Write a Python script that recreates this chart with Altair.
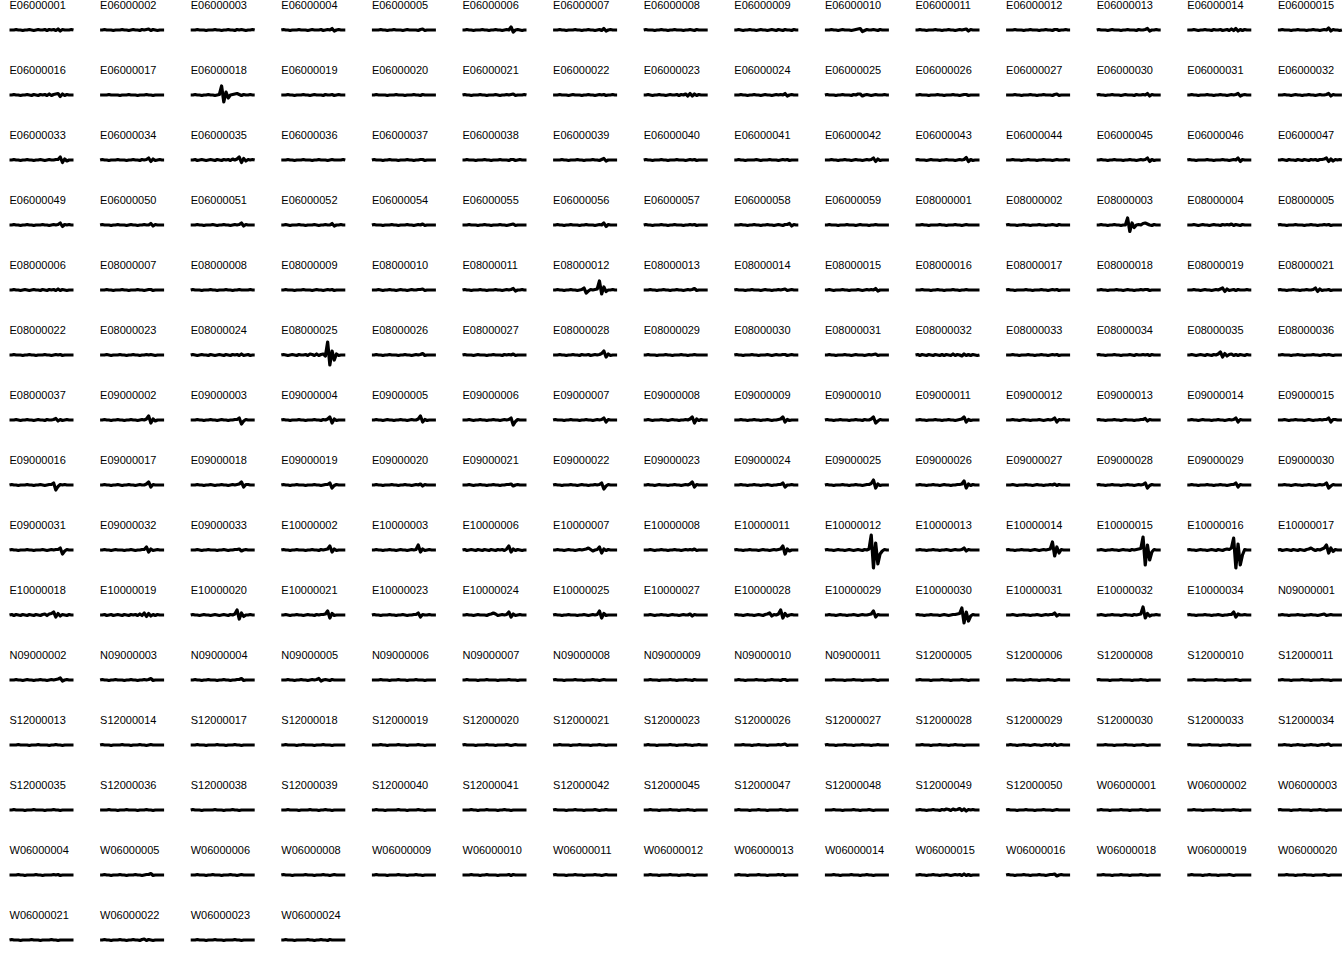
import altair as alt
import pandas as pd

# Region codes, grouped by prefix
e06_codes = ["E06000001","E06000002","E06000003","E06000004","E06000005","E06000006","E06000007","E06000008","E06000009","E06000010",
             "E06000011","E06000012","E06000013","E06000014","E06000015","E06000016","E06000017","E06000018","E06000019","E06000020",
             "E06000021","E06000022","E06000023","E06000024","E06000025","E06000026","E06000027","E06000030","E06000031","E06000032",
             "E06000033","E06000034","E06000035","E06000036","E06000037","E06000038","E06000039","E06000040","E06000041","E06000042",
             "E06000043","E06000044","E06000045","E06000046","E06000047","E06000049","E06000050","E06000051","E06000052","E06000054",
             "E06000055","E06000056","E06000057","E06000058","E06000059"]
e06_values = [
    [0,0,0,1,0,0,-1,0,0,1, 0,-1,0,1,0,0,1,-1,1,0, 1,-1,2,-2,1,0,0,0,1,0],
    [0,0,1,0,0,0,-1,0,0,0, 1,0,0,-1,0,1,0,0,-1,1, 0,1,2,-1,1,0,-1,0,0,0],
    [0,0,0,1,0,0,0,-1,0,0, 0,1,0,0,-1,0,0,1,0,0, -1,1,0,1,0,-1,0,0,1,0],
    [0,1,0,0,-1,0,0,0,1,0, 0,0,-1,0,1,0,0,0,1,-1, 0,1,0,3,-2,0,1,0,0,0],
    [0,0,0,0,1,0,0,-1,0,0, 1,0,0,0,-1,0,1,0,0,0, 0,-1,1,2,-1,0,0,0,0,0],
    [0,0,1,0,0,-1,0,0,0,1, 0,0,-1,0,0,1,0,0,-1,0, 1,0,6,-4,0,1,0,-1,0,0],
    [0,0,0,1,0,0,-1,0,0,0, 1,0,0,-1,0,0,1,0,0,-1, 0,1,-1,3,-2,0,1,0,0,0],
    [0,1,0,0,0,-1,0,0,1,0, 0,-1,0,0,1,0,0,0,-1,0, 0,1,0,-1,1,0,0,0,0,0],
    [0,0,1,0,-1,0,0,1,0,0, -1,0,1,0,0,-1,0,1,0,-1, 1,0,-1,1,0,0,-1,1,0,0],
    [0,0,0,1,0,0,-1,0,1,0, 0,0,-1,0,1,2,3,-3,-1,1, 0,0,1,0,-1,1,0,0,0,0],
    [0,0,1,0,0,-1,0,0,0,1, 0,0,-1,0,0,1,0,0,-1,0, 1,0,1,2,-2,1,0,0,0,0],
    [0,0,0,0,1,0,0,0,-1,0, 0,1,0,0,0,-1,0,0,1,0, 0,-1,1,1,-1,0,0,1,0,0],
    [0,1,0,0,0,-1,0,1,0,0, 0,-1,0,0,1,0,0,0,-1,1, 0,0,1,3,-2,0,0,1,0,0],
    [0,0,0,1,0,-1,0,0,1,0, 0,-1,1,0,0,1,-1,0,1,-1, 2,-1,3,-2,1,-1,1,0,0,0],
    [0,0,1,0,0,0,-1,0,0,1, 0,0,0,-1,0,0,1,0,0,-1, 0,1,0,4,-2,1,0,0,-1,0],
    [0,0,1,0,0,-1,0,0,1,0, -1,1,0,-1,1,0,1,-1,2,-1, 1,2,3,-3,2,-1,1,0,0,0],
    [0,0,0,0,1,0,0,0,0,-1, 0,0,0,1,0,0,0,-1,0,0, 0,1,0,0,-1,0,0,0,0,0],
    [0,0,1,0,0,-1,0,0,1,0, 0,-1,0,1,18,-14,6,-6,0,1, 2,3,1,-1,1,0,0,1,0,0],
    [0,0,0,1,0,0,-1,0,0,0, 1,0,0,-1,0,1,0,0,0,-1, 1,0,0,1,-1,0,1,0,0,0],
    [0,0,1,0,0,0,0,-1,0,0, 0,1,0,0,0,-1,0,0,0,1, 0,0,-1,1,0,0,0,0,0,0],
    [0,1,0,0,-1,0,0,0,1,0, 0,-1,0,0,0,1,0,-1,0,0, 1,0,1,2,-1,0,0,0,1,0],
    [0,0,0,1,0,0,0,-1,0,1, 0,0,0,-1,0,0,1,0,0,-1, 0,1,0,1,-1,0,0,1,0,0],
    [0,0,1,0,-1,0,0,1,0,0, -1,0,1,0,0,1,-1,1,0,2, -2,3,-2,2,-1,1,0,0,0,0],
    [0,0,0,1,0,0,-1,0,0,1, 0,0,-1,0,1,0,0,-1,0,1, 0,1,0,3,-2,0,1,0,0,0],
    [0,1,0,0,0,-1,0,0,1,0, 0,0,-1,1,0,2,2,-2,0,1, 0,-1,0,1,0,0,0,1,0,0],
    [0,0,1,0,0,0,-1,0,0,0, 1,0,0,-1,0,0,0,1,0,0, -1,0,1,1,-1,0,0,0,0,0],
    [0,0,0,0,1,0,0,-1,0,0, 0,1,0,0,-1,0,0,1,0,0, 0,-1,1,2,-1,0,0,0,0,0],
    [0,1,0,0,-1,0,0,1,0,0, 0,-1,0,1,0,0,0,-1,1,0, 0,1,0,3,-2,1,0,0,0,0],
    [0,0,1,0,0,-1,0,0,0,1, 0,0,-1,0,0,1,0,0,-1,0, 1,0,1,3,-2,0,1,0,0,0],
    [0,0,0,1,0,0,-1,0,1,0, 0,-1,0,0,1,0,0,-1,0,1, 0,0,1,3,-2,1,0,0,0,0],
    [0,0,1,0,0,-1,0,0,1,0, 0,-1,0,0,1,0,-1,0,1,0, 0,1,1,6,-5,2,-2,0,0,0],
    [0,1,0,0,-1,0,0,0,1,0, 0,0,-1,0,0,1,0,0,-1,1, 0,1,4,-3,2,-1,0,1,0,0],
    [0,0,1,-1,0,1,0,-1,0,1, 0,-1,1,0,-1,1,0,1,-1,2, 0,2,6,-5,3,-2,1,0,1,0],
    [0,0,0,1,0,0,-1,0,0,0, 1,0,0,0,-1,0,0,1,0,0, 0,-1,0,1,0,0,0,0,1,0],
    [0,1,0,0,0,-1,0,0,1,0, 0,0,-1,0,0,0,1,0,0,-1, 0,0,1,1,-1,0,0,0,0,0],
    [0,0,1,0,0,0,-1,0,0,0, 1,0,0,-1,0,0,0,1,0,0, 0,-1,1,1,-1,0,1,0,0,0],
    [0,0,0,0,1,0,0,-1,0,0, 0,1,0,0,-1,0,0,0,1,0, 0,-1,1,3,-2,0,0,0,0,0],
    [0,1,0,0,-1,0,0,0,1,0, 0,-1,0,0,0,1,0,0,0,-1, 0,1,0,1,-1,0,0,0,0,0],
    [0,0,1,0,0,-1,0,0,0,0, 1,0,-1,0,0,0,1,0,0,0, -1,0,1,0,1,-1,0,0,0,0],
    [0,0,0,1,0,0,-1,0,0,1, 0,0,-1,0,1,0,0,-1,0,1, 0,1,4,-3,2,-1,0,0,0,0],
    [0,1,0,0,0,-1,0,1,0,0, 0,-1,0,0,1,0,0,0,-1,0, 1,0,1,5,-3,1,-1,0,0,0],
    [0,0,0,1,0,0,0,-1,0,0, 1,0,0,0,-1,0,0,1,0,0, 0,-1,0,1,0,0,0,1,0,0],
    [0,0,1,0,0,-1,0,0,1,0, 0,0,-1,0,0,1,0,0,-1,0, 1,0,1,4,-3,1,-1,0,0,0],
    [0,1,0,0,-1,0,0,0,0,1, 0,0,-1,0,0,0,1,0,0,-1, 0,1,0,4,-3,1,0,0,0,0],
    [0,0,1,0,-1,1,0,0,-1,1, 0,-1,1,0,-1,1,0,1,-1,1, 1,2,4,-3,2,-2,1,0,1,0],
    [0,0,1,0,0,-1,0,0,1,0, 0,-1,0,0,0,1,0,0,-1,0, 1,0,1,4,-3,1,0,1,0,0],
    [0,1,0,0,0,-1,0,0,1,0, 0,0,-1,0,1,0,0,-1,0,0, 1,0,0,3,-2,1,0,0,0,0],
    [0,0,0,1,0,0,-1,0,0,0, 1,0,-1,0,0,1,0,0,-1,0, 1,0,1,4,-2,1,0,0,0,0],
    [0,0,1,0,-1,0,0,0,1,0, 0,-1,0,0,0,1,0,-1,0,0, 1,0,0,3,-2,0,0,1,0,0],
    [0,1,0,0,0,-1,0,0,0,1, 0,0,-1,0,0,0,1,0,0,-1, 0,1,0,2,-1,0,0,0,0,0],
    [0,0,0,1,0,0,0,-1,0,0, 1,0,0,-1,0,0,0,1,0,0, -1,0,1,2,-1,0,0,0,0,0],
    [0,0,1,0,0,-1,0,0,1,0, 0,0,-1,0,0,1,0,0,0,-1, 0,1,0,4,-3,1,0,0,0,0],
    [0,1,0,0,-1,0,0,0,1,0, 0,-1,0,0,1,0,0,0,-1,0, 0,1,0,1,-1,0,0,0,0,0],
    [0,0,0,1,0,0,-1,0,0,1, 0,0,-1,0,0,1,0,0,-1,0, 1,0,-1,1,1,3,-2,1,0,0],
    [0,0,1,0,0,0,-1,0,0,0, 1,0,0,0,-1,0,1,0,0,0, -1,0,0,1,0,0,0,0,0,0],
]

e08_codes = ["E08000001","E08000002","E08000003","E08000004","E08000005","E08000006","E08000007","E08000008","E08000009","E08000010",
             "E08000011","E08000012","E08000013","E08000014","E08000015","E08000016","E08000017","E08000018","E08000019","E08000021",
             "E08000022","E08000023","E08000024","E08000025","E08000026","E08000027","E08000028","E08000029","E08000030","E08000031",
             "E08000032","E08000033","E08000034","E08000035","E08000036","E08000037"]
e08_values = [
    [0,0,0,1,0,0,-1,0,0,0, 0,1,0,0,-1,0,0,0,1,0, 0,-1,0,1,0,0,0,0,0,0],
    [0,1,0,0,0,-1,0,0,1,0, 0,-1,0,0,0,1,0,0,-1,0, 0,1,0,-1,1,0,0,0,0,0],
    [0,0,1,0,0,-1,0,0,1,0, 0,-1,0,0,14,-13,4,-5,0,1, 0,3,4,2,0,-1,1,0,0,0],
    [0,0,0,1,0,-1,0,1,0,0, -1,0,1,0,0,-1,1,0,1,0, 2,-1,1,0,-1,1,0,0,0,0],
    [0,1,0,0,-1,0,0,0,1,0, 0,0,-1,0,0,1,0,0,-1,0, 0,1,0,1,-1,0,0,0,0,0],
    [0,0,1,0,0,-1,0,1,0,-1, 0,1,0,0,-1,1,0,-1,1,0, 1,-1,2,-1,1,0,-1,0,0,0],
    [0,0,0,1,0,0,-1,0,0,0, 1,0,0,-1,0,0,0,1,0,0, -1,0,1,1,-1,0,0,0,0,0],
    [0,1,0,0,0,-1,0,0,0,1, 0,0,-1,0,0,0,1,0,0,-1, 0,0,1,0,0,0,0,1,0,0],
    [0,0,1,0,0,0,-1,0,0,0, 1,0,0,0,-1,0,1,0,0,-1, 0,1,0,1,-1,0,0,0,0,0],
    [0,0,0,1,0,-1,0,0,1,0, 0,-1,0,1,0,0,-1,0,1,0, 0,1,1,2,-1,0,0,0,0,0],
    [0,1,0,0,-1,0,0,0,1,0, 0,-1,0,0,0,1,0,0,-1,0, 1,0,1,3,-2,0,0,1,0,0],
    [0,0,1,0,0,-1,0,0,1,0, 0,-1,0,1,4,-6,-2,1,0,1, 2,18,-8,6,-3,0,0,1,0,0],
    [0,0,0,1,0,0,-1,0,0,1, 0,0,-1,0,0,1,0,0,-1,0, 1,0,1,3,-1,0,0,0,0,0],
    [0,1,0,0,0,-1,0,0,1,0, 0,0,-1,0,1,0,0,-1,0,0, 1,0,1,2,-1,0,1,0,0,0],
    [0,0,1,0,-1,0,0,0,1,0, 0,-1,0,0,0,1,0,-1,0,1, 0,1,0,3,-2,0,0,0,0,0],
    [0,0,0,1,0,0,0,-1,0,0, 1,0,0,-1,0,0,0,1,0,0, -1,0,0,1,0,0,0,0,0,0],
    [0,1,0,0,-1,0,0,0,0,1, 0,0,-1,0,0,0,1,0,0,-1, 0,1,0,1,-1,0,0,0,0,0],
    [0,0,1,0,0,-1,0,0,0,1, 0,0,-1,0,1,0,0,-1,0,0, 1,0,1,1,-1,0,0,0,0,0],
    [0,0,0,1,0,0,-1,0,1,0, 0,-1,0,1,0,2,4,-3,2,-1, 0,1,-1,1,0,0,0,1,0,0],
    [0,1,0,0,-1,0,0,1,0,0, -1,0,0,1,0,0,1,4,-3,2, -1,0,0,1,-1,0,0,0,0,0],
    [0,0,1,0,0,0,-1,0,0,1, 0,0,-1,0,0,0,1,0,0,-1, 0,1,0,1,-1,0,0,0,0,0],
    [0,0,0,1,0,-1,0,0,0,1, 0,0,-1,0,0,1,0,0,-1,0, 0,1,0,1,0,-1,0,0,0,0],
    [0,1,0,-1,0,1,0,0,-1,1, 0,-1,0,1,0,-1,1,0,-1,1, 0,1,-1,2,-1,0,1,-1,0,0],
    [0,1,0,-1,0,1,0,-1,1,0, 0,1,-1,2,1,-1,2,-1,1,2, -2,26,-20,8,-10,2,-1,0,0,0],
    [0,0,1,0,0,-1,0,0,1,0, 0,0,-1,0,0,1,0,0,-1,0, 1,0,1,3,-1,0,0,0,0,0],
    [0,1,0,0,0,-1,0,1,0,0, 0,-1,0,0,1,0,0,0,-1,1, 0,1,0,2,-1,0,0,0,0,0],
    [0,0,0,1,0,0,-1,0,0,1, 0,0,-1,1,0,0,1,-1,0,1, 0,1,3,8,-4,2,-1,0,0,0],
    [0,0,1,0,0,0,-1,0,0,0, 1,0,0,-1,0,0,0,1,0,0, -1,0,0,1,0,0,0,0,0,0],
    [0,1,0,0,-1,0,0,0,1,0, 0,-1,0,0,0,1,0,-1,0,1, 0,0,1,1,-1,0,1,0,0,0],
    [0,0,1,0,0,-1,0,0,0,1, 0,0,-1,0,1,0,0,0,-1,0, 1,0,1,2,-1,0,0,0,0,0],
    [0,1,-1,1,0,-1,1,0,-1,1, 0,-1,1,-1,1,0,-1,2,-1,1, 0,-2,2,-1,1,-1,1,0,-1,0],
    [0,0,0,1,0,0,-1,0,0,0, 1,0,0,-1,0,0,1,0,0,-1, 0,1,0,1,-1,0,0,0,0,0],
    [0,1,0,0,-1,0,0,0,1,0, 0,-1,0,0,0,1,0,-1,1,0, 0,1,0,1,-1,1,0,0,0,0],
    [0,0,1,0,-1,0,1,0,-1,1, 0,-1,1,0,2,6,-4,3,-2,1, 2,-1,1,-1,1,0,-1,1,0,0],
    [0,0,1,0,0,0,-1,0,0,1, 0,0,-1,0,0,0,1,0,0,-1, 0,1,0,1,0,-1,0,0,0,0],
    [0,0,0,1,0,-1,0,0,1,0, 0,-1,0,1,0,0,-1,1,0,0, 1,3,-2,1,-1,0,1,0,0,0],
]

e09_codes = ["E09000002","E09000003","E09000004","E09000005","E09000006","E09000007","E09000008","E09000009","E09000010","E09000011",
             "E09000012","E09000013","E09000014","E09000015","E09000016","E09000017","E09000018","E09000019","E09000020","E09000021",
             "E09000022","E09000023","E09000024","E09000025","E09000026","E09000027","E09000028","E09000029","E09000030","E09000031",
             "E09000032","E09000033"]
e09_values = [
    [0,0,1,0,0,-1,0,0,1,0, 0,-1,0,0,1,0,0,-1,0,1, 0,2,8,-6,2,-2,0,0,0,0],
    [0,0,0,1,0,0,-1,0,0,1, 0,0,-1,0,1,0,0,-1,0,0, 1,1,4,-8,-2,1,0,0,0,0],
    [0,1,0,0,-1,0,0,0,1,0, 0,-1,0,0,0,1,0,0,-1,1, 0,2,6,-6,2,-1,0,0,0,0],
    [0,0,1,0,0,-1,0,1,0,0, -1,0,0,1,0,0,-1,0,1,0, 0,2,8,-4,1,-1,0,0,0,0],
    [0,0,0,1,0,-1,0,0,1,0, 0,-1,0,0,1,0,0,-1,0,1, 0,1,4,-10,-3,1,0,0,0,0],
    [0,1,0,0,0,-1,0,0,1,0, 0,0,-1,0,0,1,0,0,-1,0, 1,0,1,4,-4,1,0,0,0,0],
    [0,0,1,0,-1,0,0,0,1,0, 0,-1,0,1,0,0,-1,0,0,1, 0,2,6,-6,2,-1,1,0,0,0],
    [0,0,0,1,0,0,-1,0,0,1, 0,0,-1,0,0,1,0,-1,0,0, 1,2,6,-4,1,-1,0,0,0,0],
    [0,1,0,0,-1,0,0,1,0,0, 0,-1,0,0,1,0,0,-1,1,0, 0,2,6,-6,-2,1,0,0,0,0],
    [0,0,1,0,0,-1,0,0,0,1, 0,0,-1,0,0,1,0,0,-1,0, 1,2,6,-4,1,-1,0,0,0,0],
    [0,0,0,1,0,0,-1,0,1,0, 0,-1,0,0,0,1,0,-1,0,1, 0,1,4,-4,1,0,1,0,0,0],
    [0,1,0,0,-1,0,0,0,1,0, 0,-1,0,1,0,0,0,-1,0,0, 1,1,3,-2,1,0,0,0,0,0],
    [0,0,1,0,0,-1,0,1,0,0, 0,-1,0,0,1,0,0,-1,0,1, 0,1,4,-4,1,0,0,0,0,0],
    [0,0,0,1,0,-1,0,0,1,0, 0,0,-1,0,1,0,-1,0,0,1, 0,1,1,4,-4,1,1,0,0,0],
    [0,1,0,0,-1,0,0,0,1,0, 0,-1,0,0,1,0,-1,0,1,1, 4,-10,-3,1,0,1,0,0,0,0],
    [0,0,1,0,0,-1,0,0,1,0, -1,0,0,1,0,0,-1,0,1,0, 0,2,6,-4,1,0,0,0,0,0],
    [0,0,0,1,0,0,-1,0,0,1, 0,-1,0,0,1,0,0,-1,0,1, 0,1,2,6,-4,1,1,0,0,0],
    [0,1,0,0,-1,0,0,1,0,0, 0,-1,0,0,0,1,0,0,-1,0, 1,1,4,-6,-1,1,0,0,0,0],
    [0,0,1,0,0,-1,0,0,0,1, 0,0,-1,0,0,1,0,0,-1,0, 1,0,2,-2,1,0,0,0,0,0],
    [0,0,0,1,0,-1,0,0,1,0, 0,-1,0,0,1,0,0,-1,0,0, 1,1,2,-2,0,1,0,0,0,0],
    [0,1,0,0,-1,0,0,0,1,0, 0,-1,0,1,0,0,-1,0,0,1, 0,1,4,-8,-2,1,0,0,0,0],
    [0,0,1,0,0,-1,0,1,0,0, 0,-1,0,0,1,0,0,-1,0,1, 0,2,6,-4,1,0,0,0,0,0],
    [0,0,0,1,0,0,-1,0,0,1, 0,0,-1,0,0,1,0,-1,0,0, 1,1,4,-4,0,0,1,0,0,0],
    [0,1,0,0,-1,0,0,0,1,0, 0,-1,0,0,1,0,0,-1,0,1, 1,3,10,-6,2,-1,0,0,0,0],
    [0,0,1,0,0,-1,0,0,1,0, 0,-1,0,1,0,0,-1,0,0,1, 1,2,8,-6,2,-1,1,0,0,0],
    [0,0,0,1,0,-1,0,0,0,1, 0,0,-1,0,1,0,0,-1,0,0, 1,0,2,-1,1,0,0,0,0,0],
    [0,1,0,0,-1,0,0,1,0,0, 0,-1,0,0,1,0,0,-1,0,1, 0,1,4,-6,-1,1,0,0,0,0],
    [0,0,1,0,0,-1,0,0,0,1, 0,0,-1,0,0,1,0,0,-1,0, 1,1,4,-4,1,0,0,0,0,0],
    [0,0,0,1,0,0,-1,0,1,0, 0,-1,0,0,1,0,0,-1,0,1, 0,1,4,-6,-2,1,0,0,0,0],
    [0,1,0,0,-1,0,0,0,1,0, 0,-1,0,0,0,1,0,-1,0,1, 0,1,1,4,-8,-2,1,0,0,0],
    [0,0,1,0,0,-1,0,1,0,0, 0,-1,0,0,1,0,-1,0,0,1, 1,6,-4,2,-1,0,1,0,0,0],
    [0,0,0,1,0,-1,0,0,1,0, 0,0,-1,0,0,1,0,-1,0,0, 1,1,2,-2,0,1,0,0,0,0],
]

e10_codes = ["E10000002","E10000003","E10000006","E10000007","E10000008","E10000011","E10000012","E10000013","E10000014","E10000015",
             "E10000016","E10000017","E10000018","E10000019","E10000020","E10000021","E10000023","E10000024","E10000025","E10000027",
             "E10000028","E10000029","E10000030","E10000031","E10000032","E10000034"]
e10_values = [
    [0,1,0,0,-1,0,0,1,0,0, 0,-1,0,0,1,0,0,-1,1,0, 1,2,8,-4,2,-1,0,0,0,0],
    [0,0,1,0,0,-1,0,0,1,0, 0,-1,0,1,0,0,-1,0,1,0, 1,10,-4,2,-1,0,1,0,0,0],
    [0,1,-1,0,1,0,-1,1,0,-1, 1,0,-1,1,0,-1,1,0,1,-1, 2,8,-4,2,-1,1,0,-1,0,0],
    [0,0,1,0,0,-1,0,1,0,0, -1,0,1,0,1,2,4,1,-2,0, 1,6,-6,2,-1,1,0,0,0,0],
    [0,0,0,1,0,-1,0,0,1,0, 0,-1,0,0,1,0,0,-1,0,1, 0,1,0,2,-1,0,0,0,0,0],
    [0,1,0,0,-1,0,0,1,0,0, 0,-1,0,1,0,0,-1,0,1,0, 1,2,8,-8,2,-2,0,0,0,0],
    [0,1,0,0,-1,0,1,0,0,-1, 0,1,0,-1,0,1,0,-1,1,0, 2,30,-36,14,-28,-8,-2,1,0,0],
    [0,0,1,0,0,-1,0,0,1,0, 0,-1,0,0,1,0,-1,0,1,0, 0,1,4,-2,1,0,0,0,0,0],
    [0,1,0,0,-1,0,0,1,0,0, 0,-1,0,1,0,-1,0,1,0,1, 2,16,-12,6,-6,1,0,0,0,0],
    [0,0,1,0,-1,0,0,1,0,0, -1,0,1,0,0,-1,1,0,1,2, 3,26,-30,10,-20,-4,1,0,0,0],
    [0,1,0,0,-1,0,1,0,0,-1, 0,1,0,-1,1,0,-1,1,2,1, 4,24,-36,12,-30,-10,1,0,0,0],
    [0,1,-1,0,1,0,-1,1,0,-1, 1,0,-1,1,2,4,1,-1,1,0, 2,4,10,-6,4,-3,1,0,0,0],
    [0,1,-1,1,0,-1,1,0,-1,1, 0,-1,1,0,-1,1,2,-1,2,3, 6,-4,3,-2,1,0,-1,1,0,0],
    [0,0,1,-1,0,1,-1,0,1,0, -1,1,0,-1,1,0,1,-1,2,-1, 4,-3,3,-2,1,-1,1,0,0,0],
    [0,1,0,0,-1,0,1,0,0,-1, 0,1,0,-1,0,1,0,-1,1,0, 2,10,-8,4,-3,0,0,1,0,0],
    [0,0,1,0,-1,0,0,1,0,0, -1,0,1,0,0,-1,1,0,1,1, 2,8,-6,3,-1,0,0,0,0,0],
    [0,1,0,0,-1,0,0,0,1,0, 0,-1,0,0,1,0,-1,0,0,1, 1,4,-4,1,0,0,1,0,0,0],
    [0,0,1,0,0,-1,0,1,0,0, 0,-1,1,2,4,2,-1,0,1,0, 1,6,-4,2,-1,0,1,0,0,0],
    [0,1,0,0,-1,0,0,1,0,0, 0,-1,0,0,1,0,-1,0,1,0, 1,8,-6,3,-1,0,0,0,0,0],
    [0,0,0,1,0,-1,0,0,1,0, 0,-1,0,1,0,0,-1,0,1,0, 0,2,-2,1,0,0,0,0,0,0],
    [0,1,0,0,-1,0,1,0,0,-1, 0,1,0,-1,1,2,4,-2,1,0, 2,10,-6,3,-2,0,1,0,0,0],
    [0,0,1,0,0,-1,0,1,0,0, -1,0,0,1,0,-1,0,1,0,0, 1,2,8,-4,1,0,0,0,0,0],
    [0,1,0,0,-1,0,0,1,0,0, 0,-1,0,1,0,-1,0,1,1,2, 3,14,-16,6,-12,-2,1,0,0,0],
    [0,0,0,1,0,-1,0,0,1,0, 0,-1,0,0,1,0,-1,0,1,0, 1,1,4,-2,1,0,0,0,0,0],
    [0,0,1,0,-1,0,0,1,0,0, 0,-1,0,1,0,0,-1,1,0,1, 2,16,-6,3,-2,0,0,1,0,0],
    [0,1,0,0,-1,0,0,0,1,0, 0,-1,0,0,1,0,-1,0,0,1, 1,6,-4,2,0,0,1,0,0,0],
]

n09_codes = ["N09000001","N09000002","N09000003","N09000004","N09000005","N09000006","N09000007","N09000008","N09000009","N09000010",
             "N09000011"]
n09_values = [
    [0,0,1,0,0,-1,0,0,0,1, 0,0,-1,0,0,1,0,0,-1,0, 1,2,-1,0,1,0,0,0,0,0],
    [0,0,0,1,0,0,-1,0,1,0, 0,-1,0,0,1,0,0,-1,0,1, 0,1,2,4,-2,0,1,0,0,0],
    [0,1,0,0,-1,0,0,1,0,0, 0,-1,0,0,1,0,0,-1,0,0, 1,0,1,3,-1,0,0,0,0,0],
    [0,0,1,0,0,-1,0,0,1,0, 0,0,-1,0,0,1,0,0,-1,0, 0,1,1,3,-1,0,0,0,0,0],
    [0,0,0,1,0,0,-1,0,0,1, 0,0,-1,0,1,0,1,3,-2,0, 1,0,-1,1,0,0,0,0,0,0],
    [0,0,0,0,1,0,0,0,-1,0, 0,0,1,0,0,0,-1,0,0,0, 1,0,0,0,-1,0,0,0,0,0],
    [0,0,1,0,0,0,0,-1,0,0, 0,1,0,0,0,0,-1,0,0,0, 0,1,0,0,0,-1,0,0,0,0],
    [0,1,0,0,0,-1,0,0,0,0, 1,0,0,0,-1,0,0,0,1,0, 0,-1,0,1,0,0,0,0,0,0],
    [0,0,0,1,0,0,0,-1,0,0, 0,0,1,0,0,-1,0,0,0,1, 0,0,-1,1,0,0,0,0,0,0],
    [0,0,1,0,0,-1,0,0,0,0, 1,0,0,0,-1,0,0,1,0,0, 0,-1,1,1,-1,0,0,0,0,0],
    [0,0,0,0,1,0,0,0,0,-1, 0,0,0,1,0,0,0,-1,0,0, 0,0,1,0,-1,0,0,0,0,0],
]

s12_codes = ["S12000005","S12000006","S12000008","S12000010","S12000011","S12000013","S12000014","S12000017","S12000018","S12000019",
             "S12000020","S12000021","S12000023","S12000026","S12000027","S12000028","S12000029","S12000030","S12000033","S12000034",
             "S12000035","S12000036","S12000038","S12000039","S12000040","S12000041","S12000042","S12000045","S12000047","S12000048",
             "S12000049","S12000050"]
s12_values = [
    [0,0,1,0,0,0,0,-1,0,0, 0,0,1,0,0,0,-1,0,0,0, 0,1,0,0,-1,0,0,0,0,0],
    [0,0,0,0,1,0,0,0,-1,0, 0,1,0,0,0,-1,0,0,0,1, 0,0,-1,0,1,0,0,0,0,0],
    [0,1,0,0,0,0,-1,0,0,0, 0,1,0,0,0,0,-1,0,0,0, 1,0,0,-1,0,0,0,0,0,0],
    [0,0,0,1,0,0,0,0,-1,0, 0,0,0,1,0,0,0,-1,0,0, 0,0,1,0,-1,0,0,0,0,0],
    [0,0,1,0,0,0,-1,0,0,0, 0,1,0,0,0,-1,0,0,0,0, 1,0,0,0,-1,0,0,0,0,0],
    [0,0,0,0,1,0,0,0,0,-1, 0,0,0,1,0,0,0,0,-1,0, 0,1,0,0,-1,0,0,0,0,0],
    [0,1,0,0,0,-1,0,0,0,0, 1,0,0,0,-1,0,0,0,1,0, 0,-1,0,1,0,0,0,0,0,0],
    [0,0,0,1,0,0,0,-1,0,0, 0,0,1,0,0,0,-1,0,0,0, 1,0,0,-1,0,0,0,0,0,0],
    [0,0,1,0,0,0,0,-1,0,0, 1,0,0,0,0,-1,0,0,0,1, 0,0,0,-1,0,0,0,0,0,0],
    [0,0,0,0,1,0,0,-1,0,0, 0,0,1,0,0,0,-1,0,0,0, 0,1,0,0,-1,0,0,0,0,0],
    [0,1,0,0,0,0,-1,0,0,0, 0,1,0,0,0,-1,0,0,0,0, 1,0,-1,0,1,0,0,0,0,0],
    [0,0,0,1,0,0,0,0,-1,0, 0,0,1,0,0,0,0,-1,0,0, 0,1,0,0,-1,0,0,0,0,0],
    [0,0,1,0,0,0,-1,0,0,0, 0,0,1,0,0,-1,0,0,0,1, 0,0,-1,0,0,1,0,0,0,0],
    [0,0,0,0,1,0,0,0,-1,0, 0,1,0,0,0,-1,0,0,0,0, 1,0,1,2,-1,0,0,0,0,0],
    [0,1,0,0,0,-1,0,0,0,1, 0,0,0,-1,0,0,0,1,0,0, 0,-1,0,0,1,0,0,0,0,0],
    [0,0,0,1,0,0,0,-1,0,0, 0,1,0,0,0,-1,0,0,1,0, 0,0,-1,0,0,0,0,0,0,0],
    [0,0,1,0,0,-1,0,0,1,0, 0,-1,0,1,0,0,-1,0,1,0, 1,-1,2,-1,0,1,0,0,0,0],
    [0,0,0,0,1,0,0,0,-1,0, 0,0,0,1,0,0,0,-1,0,0, 0,1,0,-1,0,0,0,0,0,0],
    [0,1,0,0,0,0,-1,0,0,0, 1,0,0,0,0,-1,0,0,0,1, 0,0,0,-1,0,0,0,0,0,0],
    [0,0,0,1,0,0,-1,0,0,1, 0,0,-1,0,0,1,0,0,-1,0, 1,0,1,2,-1,0,0,0,0,0],
    [0,0,1,0,0,0,0,-1,0,0, 0,1,0,0,0,0,-1,0,0,0, 1,0,0,-1,0,0,0,0,0,0],
    [0,0,0,0,1,0,0,0,-1,0, 0,0,1,0,0,0,0,-1,0,0, 0,1,0,0,-1,0,0,0,0,0],
    [0,1,0,0,0,-1,0,0,0,0, 0,1,0,0,0,-1,0,0,0,1, 0,0,-1,0,0,0,0,0,0,0],
    [0,0,0,1,0,0,0,0,-1,0, 0,0,0,1,0,0,0,-1,0,0, 1,0,0,-1,0,0,0,0,0,0],
    [0,0,1,0,0,0,-1,0,0,0, 0,0,1,0,0,0,-1,0,0,0, 0,1,0,0,-1,0,0,0,0,0],
    [0,0,0,0,1,0,0,-1,0,0, 0,1,0,0,0,0,-1,0,0,1, 0,0,-1,0,0,0,0,0,0,0],
    [0,1,0,0,0,0,-1,0,0,0, 1,0,0,0,-1,0,0,0,0,1, 0,-1,0,0,1,0,0,0,0,0],
    [0,0,0,1,0,0,0,-1,0,0, 0,0,1,0,0,0,-1,0,0,0, 1,0,0,-1,0,0,0,0,0,0],
    [0,0,1,0,0,0,0,-1,0,0, 0,1,0,0,0,-1,0,0,0,0, 0,1,0,0,-1,0,0,0,0,0],
    [0,0,0,0,1,0,0,0,-1,0, 0,0,0,1,0,0,-1,0,0,0, 1,0,-1,0,0,0,0,0,0,0],
    [0,0,1,0,0,-1,0,0,1,0, 0,-1,1,0,2,1,-1,2,0,1, 3,-1,2,-2,1,0,1,0,0,0],
    [0,1,0,0,0,-1,0,0,0,1, 0,0,0,-1,0,0,0,1,0,0, 0,-1,0,1,0,0,0,0,0,0],
]

w06_codes = ["W06000001","W06000002","W06000003","W06000004","W06000005","W06000006","W06000008","W06000009","W06000010","W06000011",
             "W06000012","W06000013","W06000014","W06000015","W06000016","W06000018","W06000019","W06000020","W06000021","W06000022",
             "W06000023","W06000024"]
w06_values = [
    [0,0,1,0,0,0,-1,0,0,0, 0,1,0,0,0,-1,0,0,0,0, 1,0,0,-1,0,0,0,0,0,0],
    [0,0,0,1,0,0,0,-1,0,0, 0,0,1,0,0,0,-1,0,0,0, 0,1,0,0,-1,0,0,0,0,0],
    [0,1,0,0,0,0,-1,0,0,0, 1,0,0,0,0,-1,0,0,0,1, 0,0,-1,0,0,0,0,0,0,0],
    [0,0,0,0,1,0,0,-1,0,0, 0,0,1,0,0,-1,0,0,0,0, 1,0,1,-1,0,0,0,0,0,0],
    [0,0,1,0,0,-1,0,0,0,1, 0,0,-1,0,0,0,1,0,0,-1, 0,1,1,3,-1,0,0,0,0,0],
    [0,0,0,1,0,0,0,-1,0,0, 1,0,0,0,-1,0,0,0,1,0, 0,-1,0,1,0,0,0,0,0,0],
    [0,1,0,0,0,-1,0,0,0,0, 0,1,0,0,0,-1,0,0,0,1, 0,0,-1,0,1,0,0,0,0,0],
    [0,0,1,0,0,0,0,-1,0,0, 0,0,1,0,0,0,-1,0,0,0, 1,0,0,-1,0,0,0,0,0,0],
    [0,0,0,0,1,0,0,0,-1,0, 0,1,0,0,0,0,-1,0,0,0, 0,1,-1,1,0,0,0,0,0,0],
    [0,1,0,0,0,0,-1,0,0,0, 1,0,0,0,-1,0,0,0,0,1, 0,0,-1,0,1,0,0,0,0,0],
    [0,0,0,1,0,0,0,-1,0,0, 0,0,1,0,0,0,-1,0,0,0, 1,0,0,-1,0,0,0,0,0,0],
    [0,0,1,0,0,0,-1,0,0,0, 0,1,0,0,0,-1,0,0,0,0, 1,0,1,-1,0,0,0,0,0,0],
    [0,0,0,0,1,0,0,-1,0,0, 0,0,1,0,0,0,-1,0,0,1, 0,0,-1,0,0,0,0,0,0,0],
    [0,0,1,0,0,-1,0,0,1,0, 0,-1,0,0,1,0,-1,0,1,0, 1,-1,2,-1,1,-1,0,0,0,0],
    [0,1,0,0,-1,0,0,0,1,0, 0,-1,0,0,0,1,0,0,-1,0, 1,1,2,-2,0,1,0,0,0,0],
    [0,0,0,1,0,0,0,-1,0,0, 0,1,0,0,0,-1,0,0,0,0, 1,0,0,-1,0,0,0,0,0,0],
    [0,0,1,0,0,0,0,-1,0,0, 1,0,0,0,-1,0,0,0,0,1, 0,-1,0,0,0,0,0,0,0,0],
    [0,0,0,0,1,0,0,0,-1,0, 0,0,1,0,0,0,-1,0,0,0, 0,1,0,-1,0,0,0,0,0,0],
    [0,1,0,0,0,-1,0,0,0,0, 1,0,0,0,-1,0,0,0,0,1, 0,0,-1,0,0,0,0,0,0,0],
    [0,0,1,0,0,-1,0,0,0,1, 0,0,-1,0,0,1,0,0,-1,1, 2,-1,1,0,-1,0,0,0,0,0],
    [0,0,0,1,0,0,0,-1,0,0, 0,1,0,0,0,-1,0,0,0,0, 1,0,0,-1,0,0,0,0,0,0],
    [0,0,1,0,0,0,-1,0,0,0, 0,0,1,0,0,-1,0,0,1,0, 0,-1,1,0,0,0,0,0,0,0],
]

groups = [(e06_codes, e06_values), (e08_codes, e08_values), (e09_codes, e09_values),
          (e10_codes, e10_values), (n09_codes, n09_values), (s12_codes, s12_values),
          (w06_codes, w06_values)]

# Long table: one row per point; k is the panel's position in the alphabetical grid
records = []
k = 0
for codes, vals in groups:
    assert len(codes) == len(vals), (codes[0], len(codes), len(vals))
    for code, series in zip(codes, vals):
        assert len(series) == 30, (code, len(series))
        for i, v in enumerate(series):
            records.append({"region": code, "k": k, "t": i, "v": v})
        k += 1
df = pd.DataFrame(records)

# Small-multiple grid layout (in screen units of the shared scales)
NCOL = 15
COL_STEP = 90.6     # horizontal distance between panels
ROW_STEP = 65       # vertical distance between panels
PANEL_W = 64        # width of one sparkline
LEFT = 9.5          # left edge of the first column
ZERO_Y = 30         # zero line of a panel below its top
LABEL_Y = 9.3       # label baseline below a panel's top
V_SCALE = 0.5       # vertical size of one value unit
T_MAX = 29

base = alt.Chart(df).transform_calculate(
    col=f"datum.k % {NCOL}",
    row=f"floor(datum.k / {NCOL})",
)

x_scale = alt.Scale(domain=[0, 1344], nice=False, zero=False)
y_scale = alt.Scale(domain=[-960, 0], nice=False, zero=False)

line = base.transform_calculate(
    px=f"{LEFT} + datum.col * {COL_STEP} + datum.t * {PANEL_W} / {T_MAX}",
    py=f"-({ZERO_Y} + datum.row * {ROW_STEP}) + datum.v * {V_SCALE}",
).mark_line(color="black", strokeWidth=3.2, strokeJoin="round").encode(
    x=alt.X("px:Q", axis=None, scale=x_scale),
    y=alt.Y("py:Q", axis=None, scale=y_scale),
    detail="region:N",
)

label = base.transform_filter("datum.t == 0").transform_calculate(
    px=f"{LEFT} + datum.col * {COL_STEP}",
    py=f"-({LABEL_Y} + datum.row * {ROW_STEP})",
).mark_text(
    align="left", baseline="alphabetic", fontSize=11, font="Liberation Sans", color="black"
).encode(
    x=alt.X("px:Q", axis=None, scale=x_scale),
    y=alt.Y("py:Q", axis=None, scale=y_scale),
    text="region:N",
)

chart = alt.layer(line, label).properties(
    width=1344, height=960,
    padding=0,
    autosize=alt.AutoSizeParams(type="fit", contains="padding"),
).configure_view(stroke="transparent")

chart.save("out.html", embed_options={"renderer": "svg", "actions": False})
